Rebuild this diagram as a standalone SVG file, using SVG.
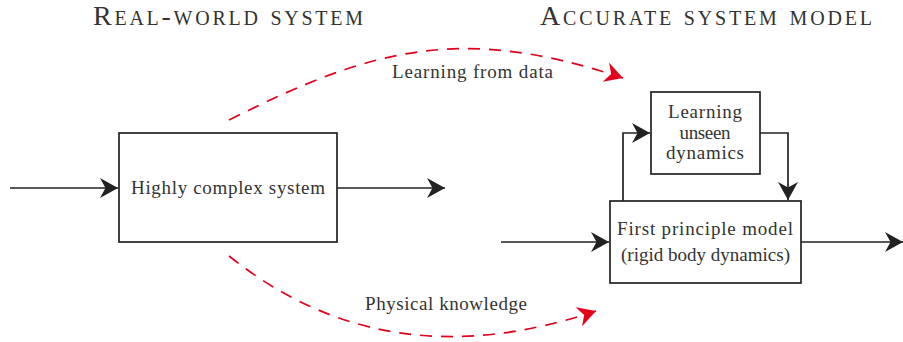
<svg xmlns="http://www.w3.org/2000/svg" width="903" height="342" viewBox="0 0 903 342">
<style>
text{font-family:"Liberation Serif","DejaVu Serif",serif;fill:#333;text-anchor:middle}
.t{font-size:19px}
.h{font-size:28px;font-variant:small-caps}
.box{fill:#fff;stroke:#222;stroke-width:1.7}
.ln{fill:none;stroke:#222;stroke-width:1.7}
.rd{fill:none;stroke:#e3001b;stroke-width:1.7;stroke-dasharray:12 9}
</style>
<defs>
<marker id="ab" markerUnits="userSpaceOnUse" markerWidth="24" markerHeight="24" viewBox="-20 -12 24 24" refX="0" refY="0" orient="auto">
<path d="M0,0 L-18,-10 L-12.5,0 L-18,10 Z" fill="#222"/>
</marker>
<marker id="ar" markerUnits="userSpaceOnUse" markerWidth="24" markerHeight="24" viewBox="-20 -12 24 24" refX="0" refY="0" orient="auto">
<path d="M0,0 L-18,-10 L-12.5,0 L-18,10 Z" fill="#e3001b"/>
</marker>
</defs>
<text class="h" x="228" y="25" textLength="270">Real-world system</text>
<text class="h" x="706" y="25" textLength="332">Accurate system model</text>
<g id="connectors">
<path class="ln" d="M10,188 H118" marker-end="url(#ab)"/>
<path class="ln" d="M337,188 H445" marker-end="url(#ab)"/>
<path class="ln" d="M501,242 H609" marker-end="url(#ab)"/>
<path class="ln" d="M801,242 H903" marker-end="url(#ab)"/>
<path class="ln" d="M623,201 V133 H650" marker-end="url(#ab)"/>
<path class="ln" d="M760,133 H788 V200" marker-end="url(#ab)"/>
<path class="rd" d="M229,120 C369,50 458,23 623,78" marker-end="url(#ar)"/>
<path class="rd" d="M229,256 C339,344 461,356 596,311" marker-end="url(#ar)"/>
<text class="t" x="472.5" y="78" textLength="161">Learning from data</text>
<text class="t" x="446" y="310" textLength="162">Physical knowledge</text>
</g>
<g id="system">
<rect class="box" x="119" y="133" width="218" height="109"/>
<text class="t" x="228" y="194" textLength="194">Highly complex system</text>
</g>
<g id="learning">
<rect class="box" x="651" y="92" width="109" height="82"/>
<text class="t" x="705" y="118" textLength="74">Learning</text>
<text class="t" x="705" y="139" textLength="51">unseen</text>
<text class="t" x="705" y="159" textLength="78">dynamics</text>
</g>
<g id="model">
<rect class="box" x="610" y="201" width="191" height="82"/>
<text class="t" x="705" y="235" textLength="176">First principle model</text>
<text class="t" x="705.5" y="261" textLength="169">(rigid body dynamics)</text>
</g>
</svg>
